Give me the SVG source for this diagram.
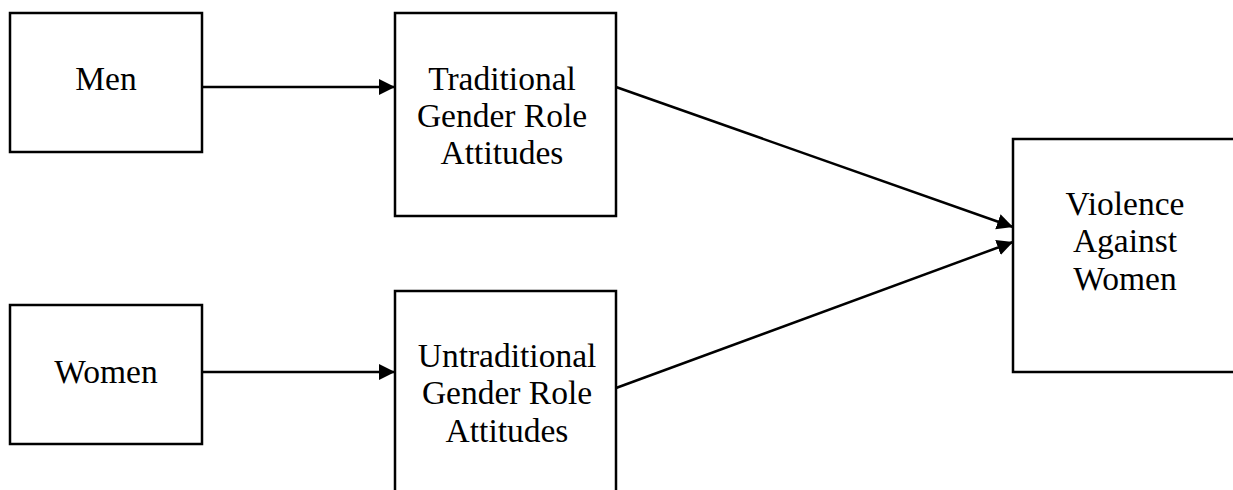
<svg xmlns="http://www.w3.org/2000/svg" width="1233" height="490" viewBox="0 0 1233 490">
  <style>
    .box { fill: #ffffff; stroke: #000000; stroke-width: 2.5; }
    .lbl { font-family: "Liberation Serif", "Times New Roman", serif; font-size: 33.5px; fill: #000000; text-anchor: middle; }
    .conn { stroke: #000000; stroke-width: 2.5; fill: none; marker-end: url(#arrow); }
  </style>
  <defs>
    <marker id="arrow" markerUnits="userSpaceOnUse" markerWidth="18" markerHeight="18" refX="16" refY="8" orient="auto">
      <path d="M0,0 L16,8 L0,16 z" fill="#000000"/>
    </marker>
  </defs>
  <rect width="1233" height="490" fill="#ffffff"/>

  <g id="men">
    <rect class="box" x="10" y="13" width="192" height="139"/>
    <text class="lbl" x="106" y="90">Men</text>
  </g>
  <g id="traditional">
    <rect class="box" x="395" y="13" width="221" height="203"/>
    <text class="lbl" x="502" y="90">Traditional</text>
    <text class="lbl" x="502" y="127">Gender Role</text>
    <text class="lbl" x="502" y="164">Attitudes</text>
  </g>
  <g id="women">
    <rect class="box" x="10" y="305" width="192" height="139"/>
    <text class="lbl" x="106" y="383">Women</text>
  </g>
  <g id="untraditional">
    <rect class="box" x="395" y="291" width="221" height="220"/>
    <text class="lbl" x="507" y="367">Untraditional</text>
    <text class="lbl" x="507" y="404">Gender Role</text>
    <text class="lbl" x="507" y="442">Attitudes</text>
  </g>
  <g id="violence">
    <rect class="box" x="1013" y="139" width="240" height="233"/>
    <text class="lbl" x="1125" y="215">Violence</text>
    <text class="lbl" x="1125" y="252">Against</text>
    <text class="lbl" x="1125" y="290">Women</text>
  </g>

  <g id="connectors">
    <line class="conn" x1="202" y1="87" x2="395" y2="87"/>
    <line class="conn" x1="202" y1="372" x2="395" y2="372"/>
    <line class="conn" x1="616" y1="87" x2="1013" y2="227"/>
    <line class="conn" x1="616" y1="388" x2="1013" y2="242"/>
  </g>
</svg>
